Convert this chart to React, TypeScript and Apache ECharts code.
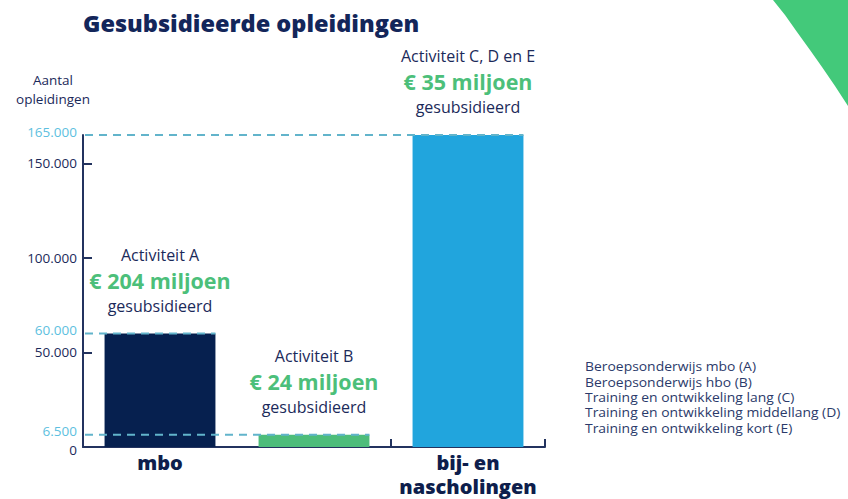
import React, { useEffect, useRef } from "react";
import * as echarts from "echarts";

const title = "Gesubsidieerde opleidingen";
const yAxisName = "Aantal\nopleidingen";
const categories = ["mbo", "hbo", "bij- en\nnascholingen"];
const values = [60000, 6500, 165000];
const barColors = ["#06204f", "#4dbd7a", "#21a5dd"];
const activities = ["Activiteit A", "Activiteit B", "Activiteit C, D en E"];
const amounts = ["€ 204 miljoen", "€ 24 miljoen", "€ 35 miljoen"];
const subsidyWord = "gesubsidieerd";
const yTicks = [50000, 100000, 150000];
const yLabels = [0, 6500, 50000, 60000, 100000, 150000, 165000];
const highlightLabels = [6500, 60000, 165000];
const legendLines = [
  "Beroepsonderwijs mbo (A)",
  "Beroepsonderwijs hbo (B)",
  "Training en ontwikkeling lang (C)",
  "Training en ontwikkeling middellang (D)",
  "Training en ontwikkeling kort (E)",
];

const NAVY = "#1b2a5a";
const AXIS = "#23335f";
const LIGHT = "#5dbfe0";
const DASH = "#62b4cb";
const GREEN = "#4cbf7a";
const FONT = "'Open Sans', 'Noto Sans', sans-serif";
const BAR_FRAC = 0.72;

const fmt = (v: number) => String(v).replace(/\B(?=(\d{3})+(?!\d))/g, ".");

export default function App() {
  const ref = useRef<HTMLDivElement>(null);
  useEffect(() => {
    const chart = echarts.init(ref.current!, null, { renderer: "svg" });
    chart.setOption({
      animation: false,
      textStyle: { fontFamily: FONT },
      grid: {
        left: 83,
        top: 135,
        width: 462,
        height: 312,
        containLabel: false,
        outerBoundsMode: "none",
      },
      xAxis: {
        type: "category",
        data: categories,
        axisLine: { show: true, lineStyle: { color: AXIS, width: 2 } },
        axisTick: { show: true, inside: true, length: 8, lineStyle: { color: AXIS, width: 2 } },
        axisLabel: {
          margin: 3,
          fontSize: 20,
          fontWeight: 800,
          color: "#0e1e4c",
          lineHeight: 24.5,
          fontFamily: FONT,
        },
      },
      yAxis: {
        type: "value",
        min: 0,
        max: 165000,
        splitLine: { show: false },
        axisLine: { show: true, lineStyle: { color: AXIS, width: 2 } },
        axisTick: {
          show: true,
          inside: true,
          length: 9,
          customValues: yTicks,
          lineStyle: { color: AXIS, width: 2 },
        },
        axisLabel: {
          customValues: yLabels,
          margin: 6,
          fontFamily: FONT,
          formatter: (v: number) => {
            if (v === 0) return "{z|0}";
            if (highlightLabels.includes(v)) return `{b|${fmt(v)}}`;
            return `{n|${fmt(v)}}`;
          },
          rich: {
            n: { fontSize: 13.5, color: NAVY, fontFamily: FONT },
            z: { fontSize: 13.5, color: NAVY, fontFamily: FONT, padding: [6, 0, 0, 0] },
            b: { fontSize: 13.5, color: LIGHT, fontFamily: FONT, padding: [0, 0, 7, 0] },
          },
        },
      },
      series: [
        {
          type: "bar",
          barWidth: `${BAR_FRAC * 100}%`,
          data: values.map((v, i) => ({ value: v, itemStyle: { color: barColors[i] } })),
          label: {
            show: true,
            position: "top",
            distance: 16,
            formatter: (p: any) =>
              `{a|${activities[p.dataIndex]}}\n{m|${amounts[p.dataIndex]}}\n{g|${subsidyWord}}`,
            rich: {
              a: { fontSize: 16, color: NAVY, lineHeight: 24, fontFamily: FONT },
              m: { fontSize: 21.5, fontWeight: "bold", color: GREEN, lineHeight: 27, fontFamily: FONT },
              g: { fontSize: 16, color: NAVY, lineHeight: 24, fontFamily: FONT },
            },
          },
        },
        {
          type: "custom",
          z: 5,
          data: values.map((v, i) => [i, v]),
          renderItem: (params: any, api: any) => {
            const idx = api.value(0);
            const v = api.value(1);
            const pt = api.coord([idx, v]);
            const band = api.size([1, 0])[0];
            const right = pt[0] + (band * BAR_FRAC) / 2;
            const left = params.coordSys.x + 2;
            return {
              type: "line",
              shape: { x1: left, y1: pt[1], x2: right, y2: pt[1] },
              style: { stroke: DASH, lineWidth: 2, lineDash: [8, 6] },
            };
          },
        },
      ],
      graphic: [
        {
          type: "polygon",
          shape: {
            points: [
              [773, 0],
              [785, 15],
              [797, 32],
              [810, 50],
              [822, 67],
              [835, 86],
              [848, 106],
              [848, 0],
            ],
          },
          style: { fill: "#43c97a" },
        },
        {
          type: "text",
          x: 83,
          y: 23,
          style: {
            text: title,
            fontSize: 23.5,
            fontWeight: 800,
            fill: "#13265a",
            fontFamily: FONT,
            verticalAlign: "middle",
          },
        },
        {
          type: "text",
          x: 53,
          y: 70,
          style: {
            text: yAxisName,
            fontSize: 13.5,
            lineHeight: 19,
            fill: NAVY,
            align: "center",
            fontFamily: FONT,
          },
        },
        {
          type: "text",
          x: 585,
          y: 359,
          scaleX: 1.07,
          style: {
            text: legendLines.join("\n"),
            fontSize: 13,
            lineHeight: 15.3,
            fill: "#2b3a6a",
            fontFamily: FONT,
          },
        },
      ],
    });
    return () => chart.dispose();
  }, []);
  return (
    <div
      ref={ref}
      style={{ position: "absolute", left: 0, top: 0, width: 848, height: 499, background: "#fff" }}
    />
  );
}
